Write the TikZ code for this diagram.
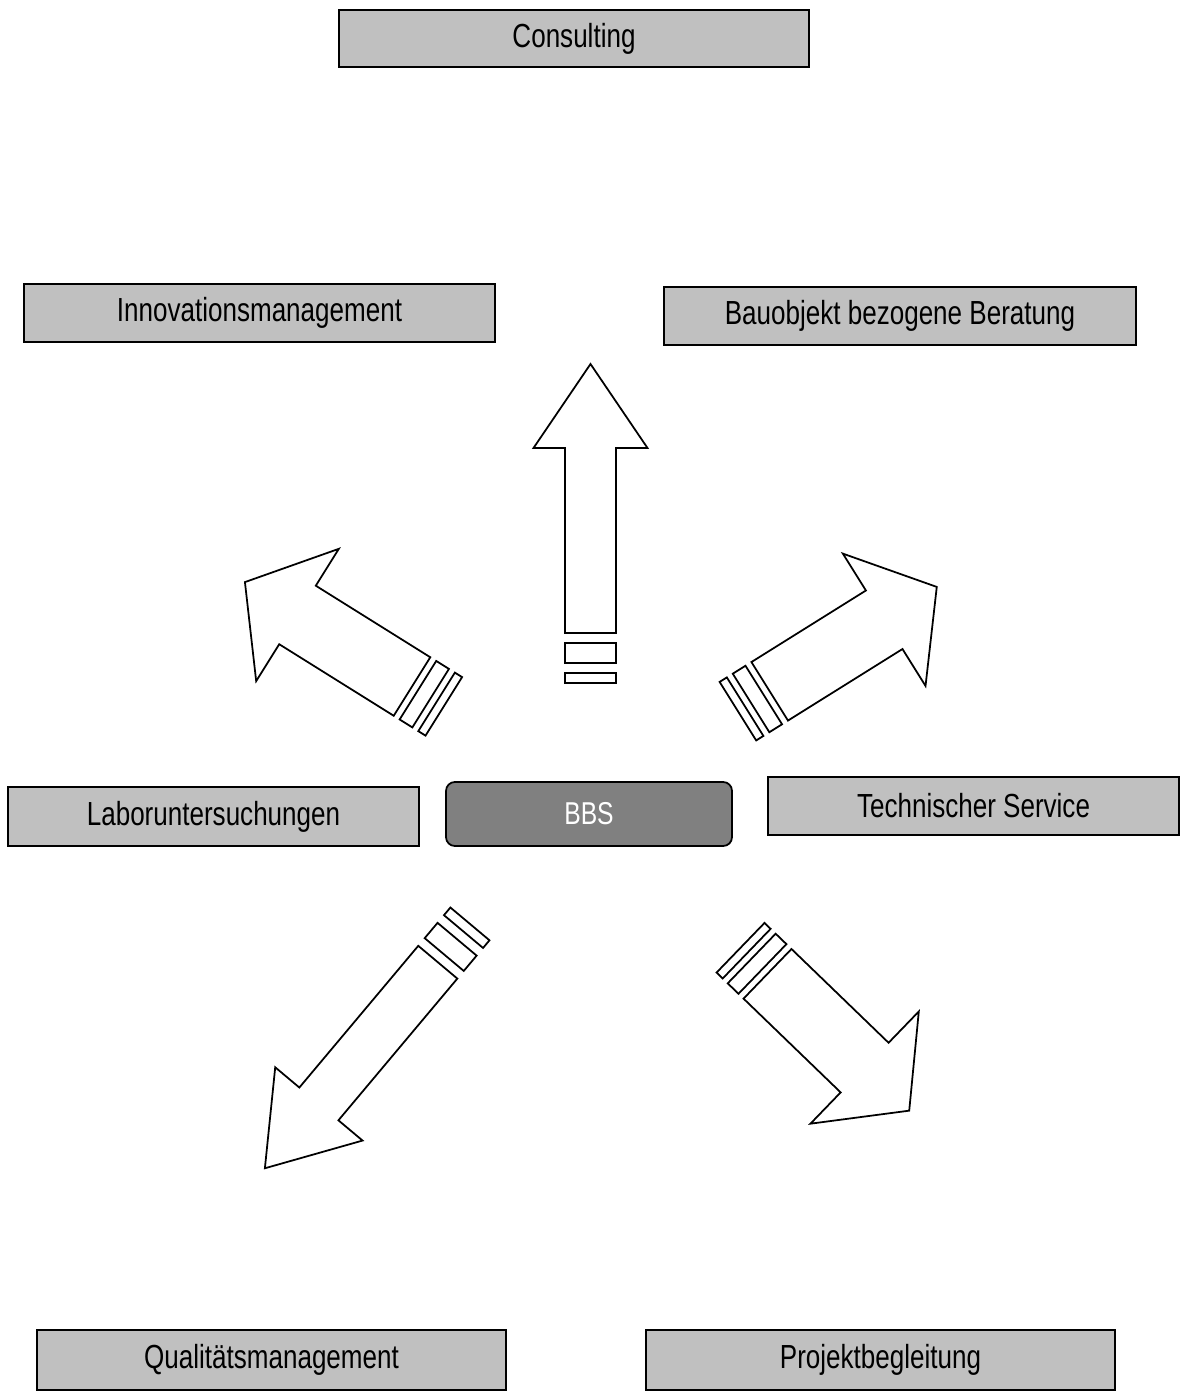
\documentclass[tikz,border=0pt]{standalone}
\usepackage{fontspec}
\setmainfont{Liberation Sans}
\newfontfamily\boxfont[FakeStretch=0.78]{Liberation Sans}
\usepackage{tikz}
\usetikzlibrary{positioning}
\definecolor{boxgray}{RGB}{192,192,192}
\definecolor{bbsgray}{RGB}{128,128,128}
\tikzstyle{field} = [draw, line width=1pt, fill=boxgray, inner sep=0pt, font=\boxfont\fontsize{19}{22}\selectfont]
\tikzstyle{centre} = [draw, line width=1pt, fill=bbsgray, rounded corners=5pt, inner sep=0pt, text=white, font=\boxfont\fontsize{18}{22}\selectfont]
\tikzstyle{arrowline} = [draw, line width=1pt, line join=miter]

% block arrow: tail, angle, shaft length, total length, shaft half width, head half width, gap, stripe 1, stripe 2
\newcommand{\blockarrow}[9]{%
	\begin{scope}[shift={#1},rotate=#2]
		\draw [arrowline] (0,-#5) -- (#3,-#5) -- (#3,-#6) -- (#4,0) -- (#3,#6) -- (#3,#5) -- (0,#5) -- cycle;
		\draw [arrowline] (-#7,-#5) rectangle (-#7-#8,#5);
		\draw [arrowline] (-2*#7-#8,-#5) rectangle (-2*#7-#8-#9,#5);
	\end{scope}}

\begin{document}
\begin{tikzpicture}[x=0.02cm, y=-0.02cm]
				\useasboundingbox (0,0) rectangle (1181,1395);
				%\draw[help lines,step=100] (0,0) grid (1181,1395);
				\node [centre, minimum width=5.72cm, minimum height=1.28cm] (bbs) at (589,814) {BBS};
				
				\node [field, minimum width=9.4cm, minimum height=1.14cm] (consulting) at (574,38.5) {Consulting};
				\node [field, minimum width=9.42cm, minimum height=1.16cm] (innovation) at (259.5,313) {Innovationsmanagement};
				\node [field, minimum width=9.44cm, minimum height=1.16cm] (bauobjekt) at (900,316) {Bauobjekt bezogene Beratung};
				\node [field, minimum width=8.22cm, minimum height=1.18cm] (labor) at (213.5,816.5) {Laboruntersuchungen};
				\node [field, minimum width=8.22cm, minimum height=1.16cm] (service) at (973.5,806) {Technischer Service};
				\node [field, minimum width=9.38cm, minimum height=1.2cm] (quality) at (271.5,1360) {Qualitätsmanagement};
				\node [field, minimum width=9.38cm, minimum height=1.2cm] (projekt) at (880.5,1360) {Projektbegleitung};
				
				\blockarrow{(590.5,633)}{90}{185}{269}{25.5}{57}{10}{20}{10}
				\blockarrow{(412,686.5)}{148}{135}{197}{34.5}{78}{7}{15}{8.5}
				\blockarrow{(769.7,691.3)}{32}{135}{197}{34.5}{78}{7}{15}{8.5}
				\blockarrow{(437.8,962.2)}{230}{185}{269}{25.5}{57}{10}{20}{10}
				\blockarrow{(767.5,973.8)}{-44}{135}{197}{34.5}{78}{7}{15}{8.5}
\end{tikzpicture}
\end{document}
